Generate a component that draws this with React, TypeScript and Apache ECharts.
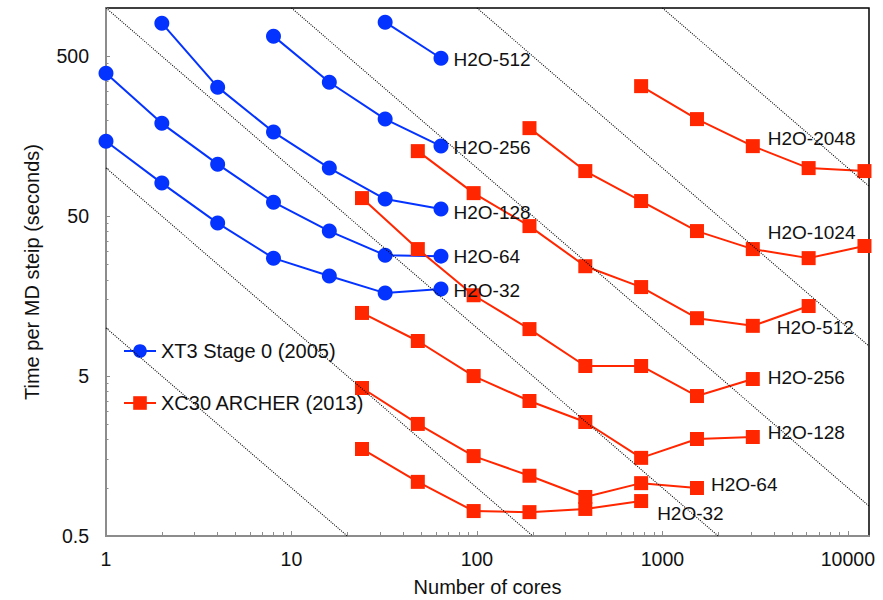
import React, { useEffect, useRef } from "react";
import * as echarts from "echarts";

// ---------- data ----------
const xt3Cores = [1, 2, 4, 8, 16, 32, 64];
const xt3H2O32 = [147, 80.4, 45.2, 27.3, 21.1, 16.5, 17.5];
const xt3H2O64 = [391, 190, 105.6, 61.1, 40.3, 28.5, 28.1];
const xt3H2O128 = [804, 320, 167.6, 99.8, 63.9, 55.3]; // 2..64 cores
const xt3H2O256 = [667, 343.5, 202, 137]; // 8..64 cores
const xt3H2O512 = [815, 485]; // 32..64 cores

const archerCores = [24, 48, 96, 192, 384, 768, 1536, 3072, 6144, 12288];
const archerH2O32 = [1.75, 1.09, 0.716, 0.705, 0.738, 0.827]; // 24..768
const archerH2O64 = [4.21, 2.51, 1.58, 1.19, 0.877, 1.07, 0.998]; // 24..1536
const archerH2O128 = [12.4, 8.28, 5.0, 3.49, 2.58, 1.54, 2.02, 2.08]; // 24..3072
const archerH2O256 = [64.8, 31.1, 16.0, 9.83, 5.78, 5.78, 3.75, 4.79]; // 24..3072
const archerH2O512 = [127.4, 69.6, 43.3, 24.3, 18.0, 11.5, 10.3, 13.7]; // 48..6144
const archerH2O1024 = [177.4, 95.6, 62.1, 40.3, 31.1, 27.3, 32.5]; // 192..12288
const archerH2O2048 = [324.7, 202, 136.9, 99.8, 95.6]; // 768..12288

// ideal-scaling guide lines: time = C / cores
const idealScaling = [10, 100, 1000, 1e4, 1e5, 1e6];

const xTickLabels = [1, 10, 100, 1000, 10000];
const yTickLabels = [0.5, 5, 50, 500];

const X_MIN = 1;
const X_MAX = 13000;
const Y_MIN = 0.5;
const Y_MAX = 1000;

const LEG_XT3 = "XT3 Stage 0 (2005)";
const LEG_ARCHER = "XC30 ARCHER (2013)";

// ---------- styles ----------
const BLUE = "#0433ff";
const RED = "#ff2600";
const AXIS_GRAY = "#8c8c8c";
const TEXT = "#111111";
const FONT = "'Liberation Sans', Arial, Helvetica, sans-serif";
const FS_LABEL = 19;
const FS_TICK = 19.5;
const FS_TITLE = 20;

function minorTicks(bases: number[], max: number) {
  const out: number[] = [];
  bases.forEach((b) => {
    for (let k = 2; k <= 9; k++) {
      const v = Math.round(b * k * 1000) / 1000;
      if (v <= max) out.push(v);
    }
  });
  return out;
}

function makeSeries(
  name: string,
  cores: number[],
  values: number[],
  color: string,
  symbol: string,
  symbolSize: number,
  labelText: string,
  labelAt: number,
  labelOffset: number[]
) {
  const idx = cores.indexOf(labelAt);
  const data = values.map((v, i) => {
    const item: any = { value: [cores[i], v] };
    if (i === idx) {
      item.label = {
        show: true,
        formatter: labelText,
        position: "right",
        offset: labelOffset,
      };
    }
    return item;
  });
  return {
    type: "line",
    name,
    data,
    symbol,
    symbolSize,
    itemStyle: { color, opacity: 1 },
    lineStyle: { color, width: 2 },
    label: { show: false, color: TEXT, fontSize: FS_LABEL, fontFamily: FONT },
    emphasis: { disabled: true },
    z: 3,
  };
}

export default function App() {
  const ref = useRef<HTMLDivElement>(null);

  useEffect(() => {
    if (!ref.current) return;
    const chart = echarts.init(ref.current, null, { renderer: "svg" });

    const xt3Series = [
      { vals: xt3H2O32, label: "H2O-32", off: [0, 1] },
      { vals: xt3H2O64, label: "H2O-64", off: [0, 0] },
      { vals: xt3H2O128, label: "H2O-128", off: [0, 3] },
      { vals: xt3H2O256, label: "H2O-256", off: [0, 1] },
      { vals: xt3H2O512, label: "H2O-512", off: [0, 1] },
    ].map((s) => {
      const cores = xt3Cores.slice(xt3Cores.length - s.vals.length);
      return makeSeries(LEG_XT3, cores, s.vals, BLUE, "circle", 15, s.label, 64, s.off);
    });

    const archerSeries = [
      { vals: archerH2O32, start: 0, label: "H2O-32", at: 768, off: [4, 12] },
      { vals: archerH2O64, start: 0, label: "H2O-64", at: 1536, off: [2, -3] },
      { vals: archerH2O128, start: 0, label: "H2O-128", at: 3072, off: [3, -4] },
      { vals: archerH2O256, start: 0, label: "H2O-256", at: 3072, off: [3, -2] },
      { vals: archerH2O512, start: 1, label: "H2O-512", at: 3072, off: [12, 2] },
      { vals: archerH2O1024, start: 3, label: "H2O-1024", at: 3072, off: [3, -17] },
      { vals: archerH2O2048, start: 5, label: "H2O-2048", at: 3072, off: [3, -8] },
    ].map((s) => {
      const cores = archerCores.slice(s.start, s.start + s.vals.length);
      return makeSeries(LEG_ARCHER, cores, s.vals, RED, "rect", 14, s.label, s.at, s.off);
    });

    const guideSeries = idealScaling.map((C) => {
      const n1 = Math.max(X_MIN, C / Y_MAX);
      const n2 = Math.min(X_MAX, C / Y_MIN);
      return {
        type: "line",
        name: "ideal",
        data: [
          [n1, C / n1],
          [n2, C / n2],
        ],
        symbol: "none",
        silent: true,
        clip: true,
        lineStyle: { color: "#000", width: 1.1, type: [1, 1.3] },
        emphasis: { disabled: true },
        z: 5,
      };
    });

    const labelFmt = (v: number) => String(Math.round(v * 100) / 100);

    const option: any = {
      animation: false,
      backgroundColor: "#ffffff",
      textStyle: { fontFamily: FONT },
      grid: {
        left: 106,
        right: 14,
        top: 8,
        bottom: 64,
        show: true,
        borderColor: "#000",
        borderWidth: 1.5,
        backgroundColor: "transparent",
        containLabel: false,
        outerBoundsMode: "none",
      },
      legend: {
        data: [LEG_XT3, LEG_ARCHER],
        orient: "vertical",
        left: 123,
        top: 341,
        padding: 0,
        itemWidth: 32,
        itemHeight: 17,
        itemGap: 32,
        selectedMode: false,
        textStyle: { fontSize: FS_TITLE, color: TEXT, fontFamily: FONT },
      },
      xAxis: [
        {
          type: "log",
          logBase: 10,
          min: X_MIN,
          max: X_MAX,
          position: "bottom",
          name: "Number of cores",
          nameLocation: "middle",
          nameGap: 41,
          nameTextStyle: { fontSize: FS_TITLE, color: TEXT, fontFamily: FONT },
          axisLine: { show: true, lineStyle: { color: AXIS_GRAY, width: 2 } },
          axisTick: {
            show: true,
            inside: true,
            length: 5,
            customValues: xTickLabels,
            lineStyle: { color: AXIS_GRAY, width: 1 },
          },
          axisLabel: {
            customValues: xTickLabels,
            fontSize: FS_TICK,
            color: TEXT,
            fontFamily: FONT,
            margin: 13,
            formatter: labelFmt,
          },
          splitLine: { show: false },
          minorTick: { show: false },
        },
        {
          type: "log",
          logBase: 10,
          min: X_MIN,
          max: X_MAX,
          position: "bottom",
          axisLine: { show: false },
          axisTick: {
            show: true,
            inside: true,
            length: 4,
            customValues: minorTicks(xTickLabels, X_MAX),
            lineStyle: { color: AXIS_GRAY, width: 1 },
          },
          axisLabel: { show: false },
          splitLine: { show: false },
        },
      ],
      yAxis: [
        {
          type: "log",
          logBase: 10,
          min: Y_MIN,
          max: Y_MAX,
          position: "left",
          name: "Time per MD steip (seconds)",
          nameLocation: "middle",
          nameGap: 64,
          nameTextStyle: { fontSize: FS_TITLE, color: TEXT, fontFamily: FONT },
          axisLine: { show: true, lineStyle: { color: AXIS_GRAY, width: 2 } },
          axisTick: {
            show: true,
            inside: true,
            length: 4,
            customValues: yTickLabels,
            lineStyle: { color: AXIS_GRAY, width: 1 },
          },
          axisLabel: {
            customValues: yTickLabels,
            fontSize: FS_TICK,
            color: TEXT,
            fontFamily: FONT,
            margin: 17,
            formatter: labelFmt,
          },
          splitLine: { show: false },
          minorTick: { show: false },
        },
        {
          type: "log",
          logBase: 10,
          min: Y_MIN,
          max: Y_MAX,
          position: "left",
          axisLine: { show: false },
          axisTick: {
            show: true,
            inside: true,
            length: 2.5,
            customValues: minorTicks(yTickLabels, Y_MAX),
            lineStyle: { color: AXIS_GRAY, width: 1 },
          },
          axisLabel: { show: false },
          splitLine: { show: false },
        },
      ],
      series: [...xt3Series, ...archerSeries, ...guideSeries],
    };

    chart.setOption(option);
    return () => {
      chart.dispose();
    };
  }, []);

  return (
    <div
      ref={ref}
      style={{ position: "fixed", left: 0, top: 0, width: 883, height: 600 }}
    />
  );
}
